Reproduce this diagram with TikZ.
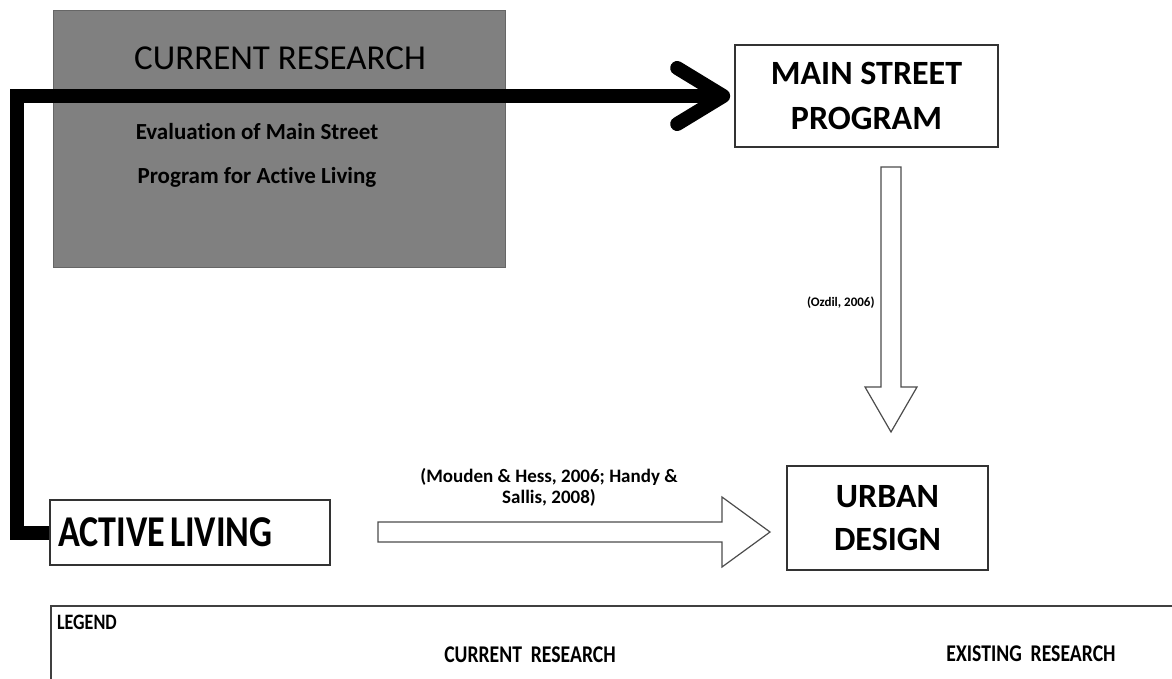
\documentclass[tikz,border=0pt]{standalone}
\usepackage{fontspec}
\setmainfont{Carlito}[Ligatures=NoCommon]
\newfontfamily\narrowfont[FakeStretch=0.82,Ligatures=NoCommon]{Carlito}
\usetikzlibrary{positioning,arrows.meta}
\definecolor{boxgray}{HTML}{808080}

\begin{document}
\begin{tikzpicture}[x=0.5pt,y=-0.5pt,
        main node/.style={draw=black!80,line width=0.8pt,fill=white,align=center,font=\bfseries\fontsize{17}{22.5}\selectfont},
        ref node/.style={font=\bfseries\fontsize{9.5}{10.5}\selectfont,align=center,inner sep=2pt},
        legend node/.style={font=\narrowfont\bfseries\fontsize{12}{14}\selectfont},
        bold line/.style={line width=7pt,shorten >=2pt,-{Straight Barb[length=23pt,width=28pt,round]}},
        hollow/.style={draw=black!70,line width=0.6pt,fill=white}]

        \useasboundingbox (0,0) rectangle (1172,679);
        \clip (0,0) rectangle (1172,679);

        % Define vertices
        \node[draw=black!60,fill=boxgray,minimum width=226pt,minimum height=128.5pt] (C) at (279,138.5) {};
        \node[font=\fontsize{17.5}{21}\selectfont] (Ct) at (280,58) {CURRENT RESEARCH};
        \node[font=\bfseries\fontsize{11.5}{22}\selectfont,align=center] (Ce) at (257,155) {Evaluation of Main Street\\Program for Active Living};
        \node[main node,minimum width=131.5pt,minimum height=51pt] (M) at (866.5,96) {MAIN STREET\\PROGRAM};
        \node[main node,minimum width=100.5pt,minimum height=52pt,font=\bfseries\fontsize{17}{21.5}\selectfont] (U) at (887.5,518) {URBAN\\DESIGN};
        \node[main node,minimum width=140pt,minimum height=32.5pt,text width=132pt,inner xsep=4pt,align=left,font=\narrowfont\bfseries\fontsize{22}{24}\selectfont] (A) at (190,532.5) {\spaceskip=2.5pt\relax ACTIVE LIVING};

        \coordinate (corner) at (16.5,96);
        \coordinate (oztop) at (891,167);
        \coordinate (oztip) at (891,432);
        \coordinate (altail) at (378,532);
        \coordinate (altip) at (770,532);

        % Draw edges
        \draw[bold line] (A.west) -| (corner) -- (M.west);
        \draw[hollow] (oztop) ++(-10,0) -- ++(20,0) -- ++(0,220) -- ++(16,0) -- (oztip) -- ++(-26,-45) -- ++(16,0) -- cycle;
        \draw[hollow] (altail) ++(0,-10) -- ++(344,0) -- ++(0,-25) -- (altip) -- ++(-48,35) -- ++(0,-25) -- ++(-344,0) -- cycle;

        \node[ref node,anchor=east,font=\bfseries\fontsize{6.5}{8}\selectfont] (oz) at (879,303) {(Ozdil, 2006)};
        \node[ref node] (mh) at (549,487) {(Mouden \& Hess, 2006; Handy \&\\Sallis, 2008)};

        % Legend
        \node[draw=black!75,line width=0.8pt,anchor=north west,minimum width=600pt,minimum height=60pt] (L) at (50,605) {};
        \node[legend node,anchor=west,font=\narrowfont\bfseries\fontsize{11}{13}\selectfont] (Lt) at (50,622) {LEGEND};
        \node[legend node] (Lc) at (530,655) {CURRENT~~RESEARCH};
        \node[legend node] (Le) at (1031,654) {EXISTING~~RESEARCH};

\end{tikzpicture}
\end{document}
